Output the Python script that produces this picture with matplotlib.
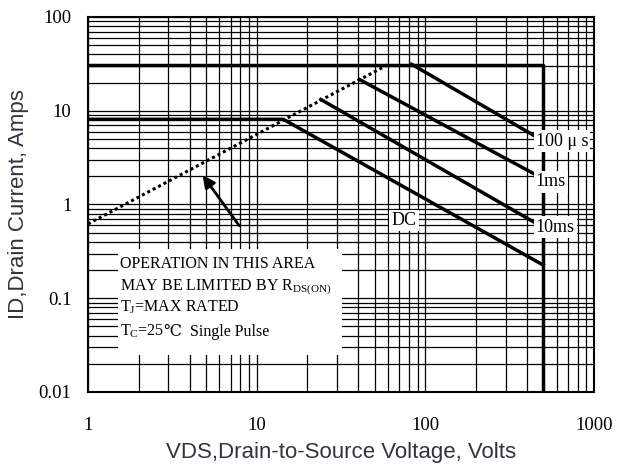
import matplotlib
matplotlib.use('Agg')
import matplotlib.pyplot as plt
from matplotlib.patches import Rectangle

plt.rcParams['mathtext.fontset'] = 'custom'
plt.rcParams['mathtext.rm'] = 'Liberation Serif'

# safe operating area data
rds_v = [1, 60]
rds_i = [0.62, 31]
limit_v = [1, 500, 500]
limit_i = [31, 31, 0.01]
dc_v = [1, 14.4, 500]
dc_i = [8.1, 8.1, 0.226]
ms10_v = [24, 436]
ms10_i = [13.2, 0.656]
ms1_v = [40.6, 436]
ms1_i = [21.6, 2.15]
us100_v = [83, 436]
us100_i = [31.3, 5.5]

xticks = [1, 10, 100, 1000]
yticks = [0.01, 0.1, 1, 10, 100]
xticklabels = ['1', '10', '100', '1000']
yticklabels = ['0.01', '0.1', '1', '10', '100']

serif = ['Liberation Serif', 'DejaVu Serif', 'DejaVu Sans']
lblcol = '#33333d'

fig = plt.figure(figsize=(6.17, 4.68), dpi=100)
ax = fig.add_axes([0.1426, 0.1624, 0.8201, 0.8013])
ax.set_xscale('log')
ax.set_yscale('log')
ax.set_xlim(1, 1000)
ax.set_ylim(0.01, 100)

ax.grid(True, which='both', color='black', lw=0.9, zorder=0)
ax.set_axisbelow(True)
for s in ax.spines.values():
    s.set_linewidth(1.5)
ax.tick_params(which='both', length=0)
ax.tick_params(axis='x', pad=18)
ax.tick_params(axis='y', pad=12)
ax.set_xticks(xticks)
ax.set_xticklabels(xticklabels, family=serif, fontsize=13.5)
ax.set_yticks(yticks)
ax.set_yticklabels(yticklabels, family=serif, fontsize=13.5)

# white box behind the note
ax.add_patch(Rectangle((1.5, 0.025), 32 - 1.5, 0.335 - 0.025, facecolor='white',
                       edgecolor='none', zorder=1))

ax.plot(rds_v, rds_i, color='black', lw=2.2, ls=(0, (1, 1)), zorder=3)
ax.plot(limit_v, limit_i, color='black', lw=2.5, zorder=3)
ax.plot(dc_v, dc_i, color='black', lw=2.5, zorder=3)
ax.plot(ms10_v, ms10_i, color='black', lw=2.5, zorder=3)
ax.plot(ms1_v, ms1_i, color='black', lw=2.5, zorder=3)
ax.plot(us100_v, us100_i, color='black', lw=2.5, zorder=3)

bb = dict(facecolor='white', edgecolor='none', pad=1.5)
ax.text(452, 4.75, '100 μ s', family=serif, fontsize=13, va='center', ha='left', bbox=bb, zorder=4)
ax.text(452, 1.74, '1ms', family=serif, fontsize=13, va='center', ha='left', bbox=bb, zorder=4)
ax.text(452, 0.575, '10ms', family=serif, fontsize=13, va='center', ha='left', bbox=bb, zorder=4)
ax.text(63, 0.68, 'DC', family=serif, fontsize=13, va='center', ha='left', bbox=bb, zorder=4)

ax.text(1.55, 0.232, 'OPERATION IN THIS AREA', family=serif, fontsize=11.5, va='center', zorder=4)
ax.text(1.55, 0.132, r'MAY BE LIMITED BY R$_{\mathrm{DS(ON)}}$', family=serif, fontsize=11.5,
        va='center', zorder=4)
ax.text(1.55, 0.081, r'T$_{\mathrm{J}}$=MAX RATED', family=serif, fontsize=11.5, va='center', zorder=4)
tc = ax.text(1.55, 0.0405, r'T$_{\mathrm{C}}$=25', family=serif, fontsize=11.5, va='baseline', zorder=4)
ax.annotate('℃  Single Pulse', xy=(1, 0), xycoords=tc, va='bottom', ha='left',
            family=serif, fontsize=11.5, zorder=4)

ax.annotate('', xy=(4.68, 2.17), xytext=(8.07, 0.56),
            arrowprops=dict(arrowstyle='-|>', color='black', lw=2, mutation_scale=18), zorder=4)

ax.set_xlabel('VDS,Drain-to-Source Voltage, Volts', family='Liberation Sans', fontsize=16,
              color=lblcol, labelpad=6)
ax.set_ylabel('ID,Drain Current, Amps', family='Liberation Sans', fontsize=16,
              color=lblcol, labelpad=7)

fig.savefig('out.png', dpi=100)
